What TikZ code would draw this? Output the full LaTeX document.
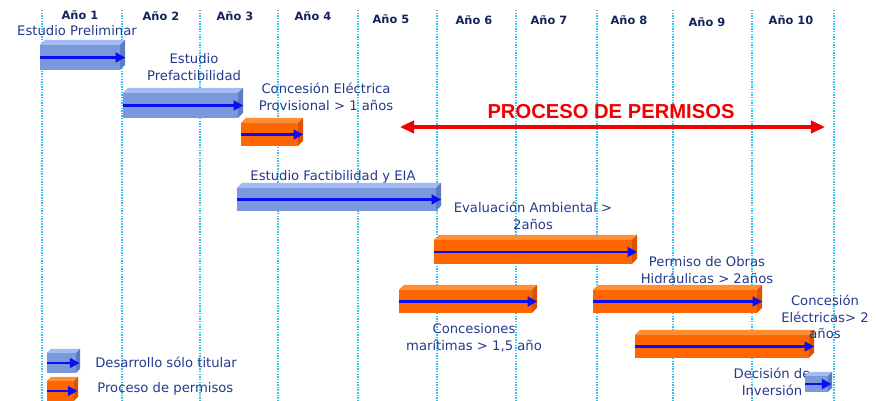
\documentclass[tikz,border=0pt]{standalone}
\usepackage{fontspec}
\setmainfont{DejaVu Sans}
\newfontfamily\titlefont{Liberation Sans}
\usetikzlibrary{arrows.meta}
\usetikzlibrary{positioning}
\definecolor{gridcyan}{RGB}{45,195,245}
\definecolor{navytext}{RGB}{35,58,140}
\definecolor{yearnavy}{RGB}{20,35,90}
\definecolor{barblue}{RGB}{122,152,222}
\definecolor{barbluetop}{RGB}{162,187,240}
\definecolor{barblueside}{RGB}{92,122,198}
\definecolor{barorange}{RGB}{255,102,0}
\definecolor{barorangetop}{RGB}{255,142,52}
\definecolor{barorangeside}{RGB}{220,82,0}
\definecolor{arrowblue}{RGB}{12,12,240}
\definecolor{permred}{RGB}{240,0,0}
% top and right face of a bar node: #1 node, #2 colour, #3 depth
\newcommand{\caja}[3]{%
  \fill[#2top]  (#1.north west) -- ++(#3,-#3) -- ([shift={(#3,-#3)}]#1.north east) -- (#1.north east) -- cycle;
  \fill[#2side] (#1.north east) -- ++(#3,-#3) -- ([shift={(#3,-#3)}]#1.south east) -- (#1.south east) -- cycle;
}

\begin{document}
\begin{tikzpicture}[x=0.02cm, y=-0.02cm,
    gridline/.style={gridcyan, line width=1pt, dash pattern=on 0.8pt off 0.7pt},
    year/.style={text=yearnavy, font=\bfseries\fontsize{6.5}{7}\selectfont},
    etiqueta/.style={text=navytext, font=\fontsize{7.5}{9.5}\selectfont, align=center, inner sep=0pt},
    barsize/.style 2 args={minimum width=#1*0.02cm, minimum height=#2*0.02cm},
    bluebar/.style={fill=barblue, inner sep=0pt, outer sep=0pt, anchor=south west},
    orangebar/.style={fill=barorange, inner sep=0pt, outer sep=0pt, anchor=south west},
    flecha/.style={arrowblue, line width=1.7pt, -{Triangle[length=5.5pt, width=5.5pt]}},
    permiso/.style={permred, line width=2.2pt, {Triangle[length=8pt, width=7pt]}-{Triangle[length=8pt, width=7pt]}}]
            \useasboundingbox (0,0) rectangle (877,401);
            % Year columns
            \draw[gridline] ( 42,10) -- ( 42,401);
            \draw[gridline] (122,10) -- (122,401);
            \draw[gridline] (200,10) -- (200,401);
            \draw[gridline] (278,10) -- (278,401);
            \draw[gridline] (358,10) -- (358,401);
            \draw[gridline] (437,10) -- (437,401);
            \draw[gridline] (516,10) -- (516,401);
            \draw[gridline] (597,10) -- (597,401);
            \draw[gridline] (673,10) -- (673,401);
            \draw[gridline] (752,10) -- (752,401);
            \draw[gridline] (834,10) -- (834,401);
            \node[year] (a1)  at ( 80,15) {Año 1};
            \node[year] (a2)  at (161,16) {Año 2};
            \node[year] (a3)  at (235,16) {Año 3};
            \node[year] (a4)  at (313,16) {Año 4};
            \node[year] (a5)  at (391,19) {Año 5};
            \node[year] (a6)  at (474,20) {Año 6};
            \node[year] (a7)  at (549,20) {Año 7};
            \node[year] (a8)  at (629,20) {Año 8};
            \node[year] (a9)  at (707,22) {Año 9};
            \node[year] (a10) at (791,20) {Año 10};
            % Developer only
            \node[bluebar, barsize={80}{25}]  (prelim)  at ( 40,70)  {};
            \caja{prelim}{barblue}{5}
            \draw[flecha] (prelim.west) -- ([xshift=3]prelim.east);
            \node[etiqueta] (tprelim) at ( 77,31) {Estudio Preliminar};
            \node[bluebar, barsize={115}{25}] (prefact) at (123,118) {};
            \caja{prefact}{barblue}{5}
            \draw[flecha] (prefact.west) -- ([xshift=3]prefact.east);
            \node[etiqueta] (tprefact) at (194,67) {Estudio\\Prefactibilidad};
            \node[bluebar, barsize={199}{23}] (factib)  at (237,211) {};
            \caja{factib}{barblue}{5}
            \draw[flecha] (factib.west) -- ([xshift=3]factib.east);
            \node[etiqueta] (tfactib) at (333,177) {Estudio Factibilidad y EIA};
            % Permits
            \node[orangebar, barsize={57}{23}]  (provis)  at (241,146) {};
            \caja{provis}{barorange}{5}
            \draw[flecha] (provis.west) -- ([xshift=3]provis.east);
            \node[etiqueta] (tprovis) at (326,97) {Concesión Eléctrica\\Provisional > 1 años};
            \node[orangebar, barsize={198}{24}] (evalamb) at (434,264) {};
            \caja{evalamb}{barorange}{5}
            \draw[flecha] (evalamb.west) -- ([xshift=3]evalamb.east);
            \node[etiqueta] (tevalamb) at (533,216) {Evaluación Ambiental >\\2años};
            \node[orangebar, barsize={133}{23}] (maritim) at (399,313) {};
            \caja{maritim}{barorange}{5}
            \draw[flecha] (maritim.west) -- ([xshift=3]maritim.east);
            \node[etiqueta] (tmaritim) at (474,338) {Concesiones\\marítimas > 1,5 año};
            \node[orangebar, barsize={164}{23}] (hidraul) at (593,313) {};
            \caja{hidraul}{barorange}{5}
            \draw[flecha] (hidraul.west) -- ([xshift=3]hidraul.east);
            \node[etiqueta] (thidraul) at (707,270) {Permiso de Obras\\Hidráulicas > 2años};
            \node[orangebar, barsize={174}{23}] (concelec) at (635,358) {};
            \caja{concelec}{barorange}{5}
            \draw[flecha] (concelec.west) -- ([xshift=3]concelec.east);
            \node[etiqueta] (tconcelec) at (825,317) {Concesión\\Eléctricas> 2\\años};
            % Investment decision
            \node[etiqueta] (tdecision) at (772,382) {Decisión de\\Inversión};
            \node[bluebar, barsize={23}{16}]  (decision) at (805,392) {};
            \caja{decision}{barblue}{4}
            \draw[flecha] (decision.west) -- ([xshift=2]decision.east);
            % Permit process span
            \coordinate (perminicio) at (400,127);
            \coordinate (permfin)    at (825,127);
            \draw[permiso] (perminicio) -- (permfin);
            \node[text=permred, font=\titlefont\bfseries\fontsize{11.5}{12}\selectfont] (tpermisos) at (611,112) {PROCESO DE PERMISOS};
            % Legend
            \node[bluebar, barsize={29}{20}]   (legblue)   at (47,373) {};
            \caja{legblue}{barblue}{4}
            \draw[flecha] (legblue.west) -- ([xshift=2]legblue.east);
            \node[etiqueta, anchor=west] (tlegblue) at (95,362) {Desarrollo sólo titular};
            \node[orangebar, barsize={27}{20}] (legorange) at (47,401) {};
            \caja{legorange}{barorange}{4}
            \draw[flecha] (legorange.west) -- ([xshift=2]legorange.east);
            \node[etiqueta, anchor=west] (tlegorange) at (97,389) {Proceso de permisos};
        \end{tikzpicture}
\end{document}
